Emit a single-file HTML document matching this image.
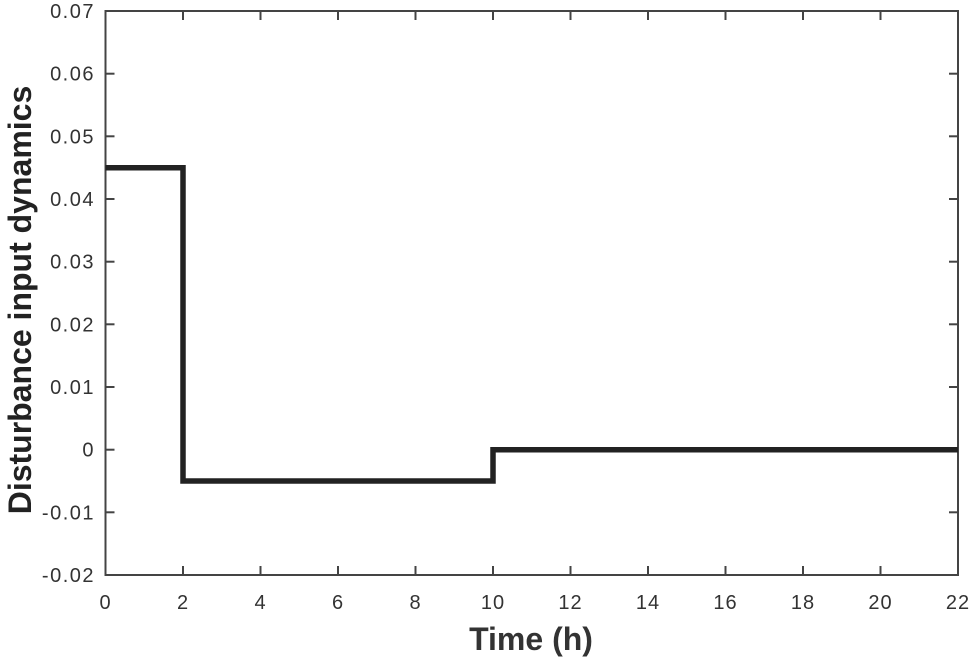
<!DOCTYPE html>
<html><head><style>body{margin:0;background:#fff}</style></head><body>
<svg width="971" height="666" xmlns="http://www.w3.org/2000/svg" font-family="Liberation Sans, Arial, sans-serif">
<rect width="971" height="666" fill="#fff"/>
<g stroke="#444" stroke-width="2" fill="none">
<rect x="105.5" y="11" width="852.5" height="564"/>
</g>
<g stroke="#444" stroke-width="2">
<line x1="183" y1="575" x2="183" y2="566"/><line x1="260.5" y1="575" x2="260.5" y2="566"/><line x1="338" y1="575" x2="338" y2="566"/><line x1="415.5" y1="575" x2="415.5" y2="566"/><line x1="493" y1="575" x2="493" y2="566"/><line x1="570.5" y1="575" x2="570.5" y2="566"/><line x1="648" y1="575" x2="648" y2="566"/><line x1="725.5" y1="575" x2="725.5" y2="566"/><line x1="803" y1="575" x2="803" y2="566"/><line x1="880.5" y1="575" x2="880.5" y2="566"/>
<line x1="183" y1="11" x2="183" y2="20"/><line x1="260.5" y1="11" x2="260.5" y2="20"/><line x1="338" y1="11" x2="338" y2="20"/><line x1="415.5" y1="11" x2="415.5" y2="20"/><line x1="493" y1="11" x2="493" y2="20"/><line x1="570.5" y1="11" x2="570.5" y2="20"/><line x1="648" y1="11" x2="648" y2="20"/><line x1="725.5" y1="11" x2="725.5" y2="20"/><line x1="803" y1="11" x2="803" y2="20"/><line x1="880.5" y1="11" x2="880.5" y2="20"/>
<line x1="105.5" y1="512.3" x2="114.5" y2="512.3"/><line x1="105.5" y1="449.7" x2="114.5" y2="449.7"/><line x1="105.5" y1="387" x2="114.5" y2="387"/><line x1="105.5" y1="324.3" x2="114.5" y2="324.3"/><line x1="105.5" y1="261.7" x2="114.5" y2="261.7"/><line x1="105.5" y1="199" x2="114.5" y2="199"/><line x1="105.5" y1="136.3" x2="114.5" y2="136.3"/><line x1="105.5" y1="73.7" x2="114.5" y2="73.7"/>
<line x1="958" y1="512.3" x2="949" y2="512.3"/><line x1="958" y1="449.7" x2="949" y2="449.7"/><line x1="958" y1="387" x2="949" y2="387"/><line x1="958" y1="324.3" x2="949" y2="324.3"/><line x1="958" y1="261.7" x2="949" y2="261.7"/><line x1="958" y1="199" x2="949" y2="199"/><line x1="958" y1="136.3" x2="949" y2="136.3"/><line x1="958" y1="73.7" x2="949" y2="73.7"/>
</g>
<g fill="#333" font-size="20" letter-spacing="1.5" text-anchor="end">
<text x="95" y="582">-0.02</text><text x="95" y="519.3">-0.01</text><text x="95" y="456.7">0</text><text x="95" y="394">0.01</text><text x="95" y="331.3">0.02</text><text x="95" y="268.7">0.03</text><text x="95" y="206">0.04</text><text x="95" y="143.3">0.05</text><text x="95" y="80.7">0.06</text><text x="95" y="18">0.07</text>
</g>
<g fill="#333" font-size="20" letter-spacing="1" text-anchor="middle">
<text x="105.5" y="609">0</text><text x="183" y="609">2</text><text x="260.5" y="609">4</text><text x="338" y="609">6</text><text x="415.5" y="609">8</text><text x="493" y="609">10</text><text x="570.5" y="609">12</text><text x="648" y="609">14</text><text x="725.5" y="609">16</text><text x="803" y="609">18</text><text x="880.5" y="609">20</text><text x="958" y="609">22</text>
</g>
<polyline points="105.5,167.7 183,167.7 183,481 493,481 493,449.7 958,449.7" fill="none" stroke="#222" stroke-width="5.5" stroke-linejoin="miter"/>
<text x="531" y="650" font-size="32" font-weight="bold" fill="#333" text-anchor="middle">Time (h)</text>
<text transform="translate(31,300) rotate(-90)" font-size="32" font-weight="bold" fill="#222" text-anchor="middle">Disturbance input dynamics</text>
</svg>
</body></html>
